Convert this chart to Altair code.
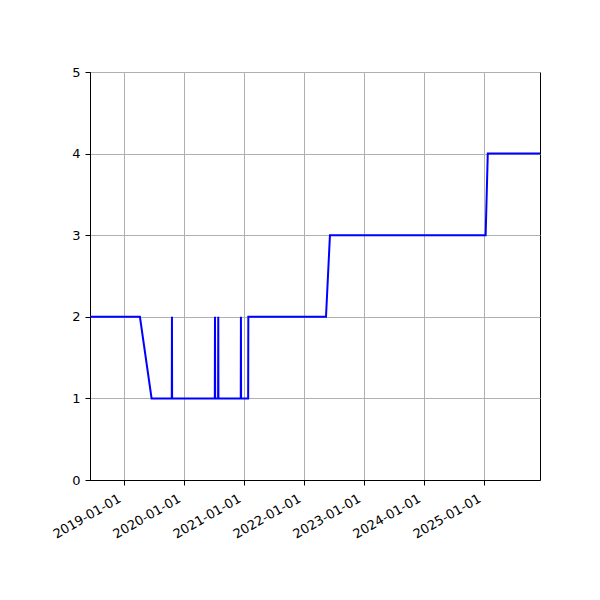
import altair as alt
import pandas as pd

dates = [
    "2018-06-06", "2019-04-06", "2019-06-16", "2019-10-17", "2019-10-18", "2019-10-19",
    "2020-07-05", "2020-07-06", "2020-07-07", "2020-07-25", "2020-07-26", "2020-07-27",
    "2020-12-10", "2020-12-11", "2020-12-12", "2021-01-24", "2021-01-25",
    "2022-05-13", "2022-06-06", "2025-01-09", "2025-01-22", "2025-12-06",
]
values = [2, 2, 1, 1, 2, 1,
          1, 2, 1, 1, 2, 1,
          1, 2, 1, 1, 2,
          2, 3, 3, 4, 4]
tick_years = [2019, 2020, 2021, 2022, 2023, 2024, 2025]
y_ticks = [0, 1, 2, 3, 4, 5]

df = pd.DataFrame({"date": dates, "value": values})

font = "DejaVu Sans"

chart = alt.Chart(df).mark_line(color="blue", strokeWidth=2, clip=True).encode(
    x=alt.X(
        "date:T",
        scale=alt.Scale(type="utc", domain=[dates[0], dates[-1]], nice=False),
        axis=alt.Axis(
            title=None,
            values=[alt.DateTime(year=y, month=1, date=1, utc=True) for y in tick_years],
            format="%Y-%m-%d",
            labelAngle=-30,
            labelAlign="right",
            labelBaseline="top",
            labelPadding=7,
            labelOffset=-8,
        ),
    ),
    y=alt.Y(
        "value:Q",
        scale=alt.Scale(domain=[0, 5], nice=False),
        axis=alt.Axis(title=None, values=y_ticks, format="d", labelPadding=5),
    ),
).properties(
    width=450,
    height=408,
    autosize=alt.AutoSizeParams(type="none"),
    padding={"left": 82, "top": 64, "right": 50, "bottom": 100},
).configure(
    background="white"
).configure_view(
    stroke="black", strokeWidth=1
).configure_axis(
    grid=True,
    gridColor="#b0b0b0",
    gridWidth=1,
    domainColor="black",
    domainWidth=1,
    tickColor="black",
    tickSize=5,
    tickWidth=1,
    labelFont=font,
    labelFontSize=13,
    labelColor="black",
    labelFlush=False,
    labelOverlap=False,
)

chart.save("out.html", embed_options={"renderer": "svg", "actions": False})
